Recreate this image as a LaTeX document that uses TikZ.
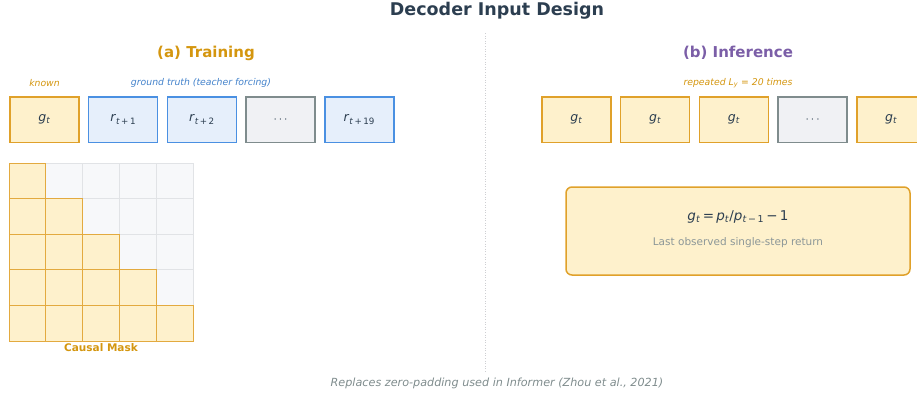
\documentclass[tikz,border=0pt]{standalone}
\usepackage{fontspec}
\setmainfont{DejaVu Sans}
\usepackage{xcolor}
\usepackage{tikz}
\usetikzlibrary{positioning}
\definecolor{decDark}{HTML}{2C3E50}
\definecolor{decGold}{HTML}{D4960F}
\definecolor{decGoldLine}{HTML}{E0A12A}
\definecolor{decGoldFill}{HTML}{FEF1CC}
\definecolor{decBlue}{HTML}{4A90E2}
\definecolor{decBlueFill}{HTML}{E6EFFB}
\definecolor{decGray}{HTML}{7F8C8D}
\definecolor{decGrayFill}{HTML}{F0F1F4}
\definecolor{decPurple}{HTML}{7B5EA7}
\definecolor{decMaskOff}{HTML}{F7F8FA}
\definecolor{decMaskLine}{HTML}{E1E3E6}
\newcommand{\sym}[2]{\textit{#1}\textsubscript{#2}}
\tikzset{
  tokBox/.style={
    draw,
    line width=1.5pt,
    minimum width=69pt,
    minimum height=45.5pt,
    inner sep=0pt,
    font=\fontsize{12.5}{14}\selectfont,
    text=decDark
  },
  tokGold/.style={
    tokBox,
    draw=decGoldLine,
    fill=decGoldFill
  },
  tokBlue/.style={
    tokBox,
    draw=decBlue,
    fill=decBlueFill
  },
  tokGray/.style={
    tokBox,
    draw=decGray,
    fill=decGrayFill
  },
  panelTitle/.style={
    font=\fontsize{15}{17}\selectfont\bfseries
  },
  smallNote/.style={
    font=\fontsize{9.3}{11}\selectfont\itshape
  },
  maskOn/.style={
    draw=decGoldLine!90,
    fill=decGoldFill,
    line width=0.9pt,
    minimum width=36.8pt,
    minimum height=35.6pt,
    inner sep=0pt
  },
  maskOff/.style={
    maskOn,
    draw=decMaskLine,
    fill=decMaskOff
  }
}
\begin{document}
\begin{tikzpicture}[x=1pt,y=-1pt,node distance=8.2pt]
  \useasboundingbox (0,0) rectangle (917,397);
  \clip (0,0) rectangle (917,397);

  \node[font=\fontsize{17.5}{20}\selectfont\bfseries, text=decDark] (title) at (497,11) {Decoder Input Design};
  \draw[decMaskLine!80!gray, dotted, line width=0.6pt] (485,33) coordinate (divTop) -- (485,372) coordinate (divBot);

  % (a) training
  \node[panelTitle, text=decGold] (trainTitle) at (206,53) {(a) Training};
  \node[tokGold] (tr0) at (44.5,119.5) {\sym{g}{\textit{t}}};
  \node[tokBlue, right=of tr0] (tr1) {\sym{r}{\textit{t}\,+\,1}};
  \node[tokBlue, right=of tr1] (tr2) {\sym{r}{\textit{t}\,+\,2}};
  \node[tokGray, right=of tr2] (tr3) {$\cdots$};
  \node[tokBlue, right=of tr3] (tr4) {\sym{r}{\textit{t}\,+\,19}};
  \node[smallNote, text=decGold] (known) at (44.5,83) {known};
  \node[smallNote, text=decBlue!90!black] (teacher) at (201,83) {ground truth (teacher forcing)};

  \foreach \r in {0,...,4}
    \foreach \c in {0,...,4} {
      \ifnum\c>\r
        \node[maskOff] (cell-\r-\c) at ({9+36.8*(\c+0.5)},{163+35.6*(\r+0.5)}) {};
      \fi
    }
  \foreach \r in {0,...,4}
    \foreach \c in {0,...,4} {
      \ifnum\c>\r\else
        \node[maskOn] (cell-\r-\c) at ({9+36.8*(\c+0.5)},{163+35.6*(\r+0.5)}) {};
      \fi
    }
  \node[font=\fontsize{10.5}{12}\selectfont\bfseries, text=decGold, below=-1pt of cell-4-2] (maskLabel) {Causal Mask};

  % (b) inference
  \node[panelTitle, text=decPurple] (inferTitle) at (738,53) {(b) Inference};
  \node[tokGold] (in0) at (576.5,119.5) {\sym{g}{\textit{t}}};
  \node[tokGold, right=of in0] (in1) {\sym{g}{\textit{t}}};
  \node[tokGold, right=of in1] (in2) {\sym{g}{\textit{t}}};
  \node[tokGray, right=of in2] (in3) {$\cdots$};
  \node[tokGold, right=of in3] (in4) {\sym{g}{\textit{t}}};
  \node[smallNote, text=decGold] (repeat) at (738,83) {repeated \sym{L}{\textit{y}} = 20 times};

  \node[draw=decGoldLine, fill=decGoldFill, line width=1.5pt, rounded corners=6pt,
        minimum width=344pt, minimum height=88pt] (formulaBox) at (738,231) {};
  \node[font=\fontsize{13.5}{15}\selectfont, text=decDark] (formula) at (738,217)
    {\sym{g}{\textit{t}}\,=\,\sym{p}{\textit{t}}/\sym{p}{\textit{t}\,−\,1}\,−\,1};
  \node[font=\fontsize{10.5}{12}\selectfont, text=decGray!90] (formulaNote) at (738,243) {Last observed single-step return};

  \node[font=\fontsize{11.2}{13}\selectfont\itshape, text=decGray] (caption) at (497,383) {Replaces zero-padding used in Informer (Zhou et al., 2021)};
\end{tikzpicture}
\end{document}
